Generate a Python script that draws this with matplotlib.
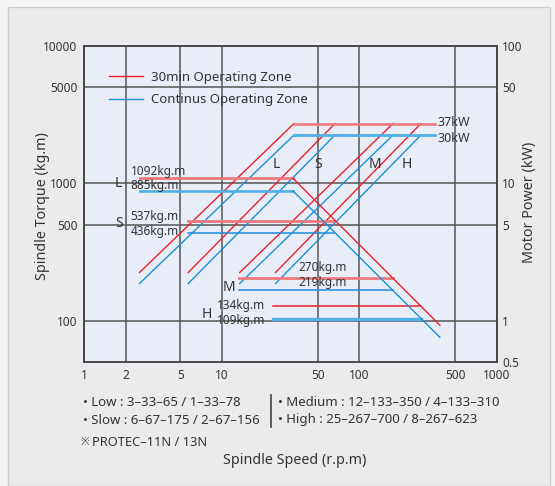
import numpy as np
import matplotlib.pyplot as plt
from matplotlib.ticker import FixedLocator, NullLocator, FixedFormatter
from matplotlib.patches import Rectangle

plt.rcParams['font.family'] = ['Noto Sans', 'Noto Sans CJK KR', 'DejaVu Sans']

# gear ranges
gears = ['L', 'S', 'M', 'H']

# rising power lines (speed rpm, torque kg.m)
rise_start = [2.52, 5.7, 13.5, 24.6]
rise_end = [33.5, 66.6, 176, 281]
red_rise_t0, red_rise_t1 = 225, 2730
blue_rise_t0, blue_rise_t1 = 187, 2250

# top power lines (37kW / 30kW)
top_speed = [33.5, 355]
red_top_t = 2730
blue_top_t = 2250

# torque lines
torque_start = [2.54, 5.71, 13.4, 23.4]
torque_end = [32.9, 65, 175, 283]
red_torque = [1092, 537, 206, 128]
blue_torque = [885, 436, 167, 104]
red_labels = ['1092kg.m', '537kg.m', '270kg.m', '134kg.m']
blue_labels = ['885kg.m', '436kg.m', '219kg.m', '109kg.m']

# falling constant power lines
fall_speed = [32.9, 386]
red_fall_t = [1092, 93]
blue_fall_t = [885, 76]

RED = '#e8222b'
BLUE = '#1b8fd8'
RED_T = '#ef7a7e'
BLUE_T = '#4fb0e4'
TXT = '#333333'

fig = plt.figure(figsize=(5.55, 4.86), dpi=100)
fig.patch.set_facecolor('#f4f4f5')
fig.patches.append(Rectangle((8 / 555, 0), 542 / 555, 479 / 486, transform=fig.transFigure,
                             facecolor='#ebebed', edgecolor='#cfcfd2', lw=1, zorder=-10))

ax = fig.add_axes([0.1519, 0.2545, 0.7431, 0.6508])
ax.set_facecolor('#e9edf7')
ax.set_xscale('log')
ax.set_yscale('log')
ax.set_xlim(1, 1000)
ax.set_ylim(50, 10000)

xt = [1, 2, 5, 10, 50, 100, 500, 1000]
yt = [100, 500, 1000, 5000, 10000]
ax.xaxis.set_major_locator(FixedLocator(xt))
ax.xaxis.set_major_formatter(FixedFormatter([str(v) for v in xt]))
ax.xaxis.set_minor_locator(NullLocator())
ax.yaxis.set_major_locator(FixedLocator(yt))
ax.yaxis.set_major_formatter(FixedFormatter([str(v) for v in yt]))
ax.yaxis.set_minor_locator(NullLocator())
ax.tick_params(length=0, labelsize=8.5, colors=TXT, pad=5)
ax.grid(True, color='#555555', lw=1.1)
for s in ax.spines.values():
    s.set_color('#444444')
    s.set_linewidth(1.1)

# rising lines
for i in range(4):
    ax.plot([rise_start[i], rise_end[i]], [red_rise_t0, red_rise_t1], color=RED, lw=1.0)
    ax.plot([rise_start[i], rise_end[i]], [blue_rise_t0, blue_rise_t1], color=BLUE, lw=1.0)

# top power lines
ax.plot(top_speed, [red_top_t, red_top_t], color=RED_T, lw=1.9)
ax.plot(top_speed, [blue_top_t, blue_top_t], color=BLUE_T, lw=2.0)

# torque lines
red_lw = [2.0, 2.0, 2.0, 1.1]
blue_lw = [1.9, 1.1, 1.1, 2.4]
red_col = [RED_T, RED_T, RED_T, RED]
blue_col = [BLUE_T, BLUE, BLUE, BLUE_T]
for i in range(4):
    ax.plot([torque_start[i], torque_end[i]], [red_torque[i]] * 2, color=red_col[i], lw=red_lw[i])
    ax.plot([torque_start[i], torque_end[i]], [blue_torque[i]] * 2, color=blue_col[i], lw=blue_lw[i])

# falling lines
ax.plot(fall_speed, red_fall_t, color=RED, lw=1.0)
ax.plot(fall_speed, blue_fall_t, color=BLUE, lw=1.0)

# legend
ax.plot([], [], color=RED, lw=1.0, label='30min Operating Zone')
ax.plot([], [], color=BLUE, lw=1.0, label='Continus Operating Zone')
ax.legend(loc='upper left', bbox_to_anchor=(0.03, 0.96), frameon=False, fontsize=9.5,
          handlelength=2.6, handletextpad=0.6, labelspacing=0.75, labelcolor=TXT)

# torque labels
ax.text(2.17, 1225, red_labels[0], fontsize=8.5, color=TXT, va='center')
ax.text(2.17, 960, blue_labels[0], fontsize=8.5, color=TXT, va='center')
ax.text(2.17, 575, red_labels[1], fontsize=8.5, color=TXT, va='center')
ax.text(2.17, 445, blue_labels[1], fontsize=8.5, color=TXT, va='center')
ax.text(36, 245, red_labels[2], fontsize=8.5, color=TXT, va='center')
ax.text(36, 189, blue_labels[2], fontsize=8.5, color=TXT, va='center')
ax.text(9.2, 129, red_labels[3], fontsize=8.5, color=TXT, va='center')
ax.text(9.2, 100, blue_labels[3], fontsize=8.5, color=TXT, va='center')

ax.text(1.78, 1000, 'L', fontsize=10, color=TXT, fontweight='bold', ha='center', va='center')
ax.text(1.78, 510, 'S', fontsize=10, color=TXT, fontweight='bold', ha='center', va='center')
ax.text(11.2, 175, 'M', fontsize=10, color=TXT, fontweight='bold', ha='center', va='center')
ax.text(7.75, 112, 'H', fontsize=10, color=TXT, fontweight='bold', ha='center', va='center')

top_gear_x = [25, 50, 130, 221]
for g, gx in zip(gears, top_gear_x):
    ax.text(gx, 1380, g, fontsize=10, color=TXT, fontweight='bold', ha='center', va='center')

ax.text(372, 2800, '37kW', fontsize=9, color=TXT, va='center')
ax.text(372, 2140, '30kW', fontsize=9, color=TXT, va='center')

# right axis
ax2 = ax.twinx()
ax2.set_yscale('log')
ax2.set_ylim(0.5, 100)
pt = [0.5, 1, 5, 10, 50, 100]
ax2.yaxis.set_major_locator(FixedLocator(pt))
ax2.yaxis.set_major_formatter(FixedFormatter([str(v) for v in pt]))
ax2.yaxis.set_minor_locator(NullLocator())
ax2.tick_params(length=0, labelsize=8.5, colors=TXT, pad=4)
for s in ax2.spines.values():
    s.set_color('#444444')
    s.set_linewidth(1.1)

# axis titles
fig.text(43 / 555, 1 - 206 / 486, 'Spindle Torque (kg.m)', fontsize=10.3, color=TXT,
         rotation=90, ha='center', va='center')
fig.text(530 / 555, 1 - 202 / 486, 'Motor Power (kW)', fontsize=10.3, color=TXT,
         rotation=90, ha='center', va='center')
fig.text(295 / 555, 1 - 460 / 486, 'Spindle Speed (r.p.m)', fontsize=10.3, color=TXT, ha='center', va='center')

# notes below
fig.text(83 / 555, 1 - 403 / 486, '• Low : 3–33–65 / 1–33–78', fontsize=9.5, color=TXT, va='center')
fig.text(83 / 555, 1 - 420 / 486, '• Slow : 6–67–175 / 2–67–156', fontsize=9.5, color=TXT, va='center')
fig.text(278 / 555, 1 - 403 / 486, '• Medium : 12–133–350 / 4–133–310', fontsize=9.5, color=TXT, va='center')
fig.text(278 / 555, 1 - 420 / 486, '• High : 25–267–700 / 8–267–623', fontsize=9.5, color=TXT, va='center')
fig.add_artist(plt.Line2D([271 / 555, 271 / 555], [1 - 395 / 486, 1 - 427 / 486], color='#444444', lw=1.2))
fig.text(80 / 555, 1 - 442 / 486, '※', fontsize=7.5, color=TXT, va='center')
fig.text(92 / 555, 1 - 442 / 486, 'PROTEC–11N / 13N', fontsize=9.3, color=TXT, va='center')

plt.savefig('out.png', dpi=100)
